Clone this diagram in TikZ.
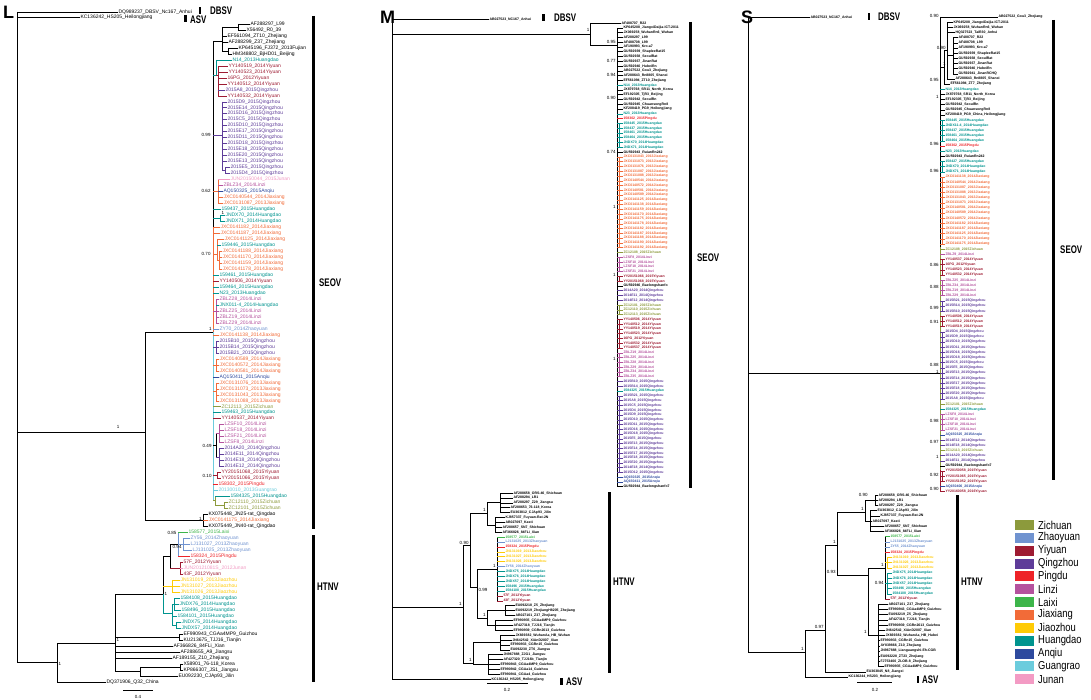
\documentclass[tikz,border=0pt]{standalone}
\usepackage{fontspec}
\setmainfont{Liberation Sans}
\usepackage{graphicx}
\definecolor{cZi}{HTML}{8C9A3C}
\definecolor{cZh}{HTML}{7093D0}
\definecolor{cYi}{HTML}{9E1B32}
\definecolor{cQi}{HTML}{5E3C99}
\definecolor{cPi}{HTML}{EE2328}
\definecolor{cLi}{HTML}{B5529E}
\definecolor{cLa}{HTML}{3DB54A}
\definecolor{cJx}{HTML}{F26B38}
\definecolor{cJz}{HTML}{FFCB05}
\definecolor{cHu}{HTML}{00948F}
\definecolor{cAn}{HTML}{2E4A9E}
\definecolor{cGu}{HTML}{6CCCDD}
\definecolor{cJu}{HTML}{F39BC4}
\definecolor{cK}{HTML}{000000}
\tikzset{
 lfL/.style={anchor=west,inner sep=0.3pt,font=\fontsize{5}{5}\selectfont},
 lfS/.style={anchor=west,inner sep=0.3pt,font=\bfseries\fontsize{3.5}{3.5}\selectfont},
 tw/.style={line width=0.45pt},
 br/.style={line width=0.7pt},
 bar/.style={line width=3pt},
 bs/.style={font=\fontsize{4.5}{4.5}\selectfont,inner sep=0.3pt},
 clade/.style={font=\bfseries\fontsize{11}{11}\selectfont,anchor=west,inner sep=0pt},
 mk/.style={fill=black,inner sep=0pt,minimum width=2.6pt,minimum height=7pt},
 panel/.style={font=\bfseries\fontsize{18}{18}\selectfont,anchor=base west,inner sep=0pt},
 legbox/.style={inner sep=0pt,minimum width=19pt,minimum height=10pt},
 legtxt/.style={anchor=west,inner sep=0pt,font=\fontsize{11.5}{11.5}\selectfont},
}
\newcommand\bsl[3]{\node[bs,anchor=east] (#1) at (#2) {#3};}
\newcommand\nar[1]{\scalebox{0.72}[1]{#1}}
\begin{document}
\catcode`\_=12
\begin{tikzpicture}[x=1pt,y=-1pt]
\useasboundingbox (0,0) rectangle (1091,700);
\fill[white] (0,0) rectangle (1091,700);
%%%%%%%%%%%%%%%%%%%%%%%%%%%%%%%%%%%%%%%% PANEL L
\node[panel] (pL) at (3,19) {L};
\node[lfL] (Ldbsv) at (118,12) {DQ989237_DBSV_Nc167_Anhui};
\node[lfL] (Lasv) at (80,17.5) {KC136242_HS205_Heilongjiang};
\draw[br] (17,12) -- (17,662);
\draw[br] (17,12) -- (Ldbsv.west);
\draw[br] (17,17.5) -- (Lasv.west);
\draw[br] (17,432) -- (145,432);
\draw[br] (145,332) -- (145,520.4);
\draw[br] (145,332) -- (213,332);
\draw[br] (145,520.4) -- (203,520.4);
\draw[br] (203,514.4) -- (203,526.3);
\draw[br] (213,41) -- (213,227.3);
\draw[br,cJx] (213,227.3) -- (213,332);
\draw[br,cGu] (213,332) -- (213,500);
\draw[br] (213,41) -- (222,41) (222,27) -- (222,51) (222,27) -- (238,27) (238,24) -- (238,30) (222,51) -- (228,51) (228,48) -- (228,54);
\draw[br,cHu] (213,75) -- (216,75) (216,59.9) -- (216,75);
\draw[br,cYi] (216,75) -- (218,75) (218,65.9) -- (218,95.8);
\draw[br,cQi] (213,135) -- (222,135) (222,101.7) -- (222,170.5) (222,170.5) -- (225,170.5) (225,167.5) -- (225,173.5);
\draw[br,cJx] (213,191) -- (218,191) (218,179.5) -- (218,203.4);
\draw[br,cHu] (213,218.4) -- (220,218.4) (220,215.4) -- (220,221.3);
\draw[br,cJx] (213,254) -- (217,254) (217,239.3) -- (217,260.2) (217,260.2) -- (219,260.2) (219,251.2) -- (219,269.2);
\draw[br,cLi] (213,311) -- (216,311) (216,299.1) -- (216,323);
\draw[br,cQi] (213,346.9) -- (216,346.9) (216,340.9) -- (216,352.9);
\draw[br,cJx] (213,364.9) -- (216,364.9) (216,358.9) -- (216,370.8);
\draw[br,cJx] (213,391.7) -- (216,391.7) (216,382.8) -- (216,400.7);
\draw[br] (213,445.6) -- (216,445.6) (216,433.6) -- (216,457.6);
\draw[br,cLi] (216,433.6) -- (219,433.6) (219,424.7) -- (219,442.6);
\draw[br,cQi] (216,457.6) -- (219,457.6) (219,448.6) -- (219,466.5);
\draw[br,cYi] (213,475.5) -- (217,475.5) (217,472.5) -- (217,478.5);
\draw[br,cZi] (213,500) -- (215,500) (215,496.4) -- (215,505.4) (215,505.4) -- (224,505.4) (224,502.4) -- (224,508.4);
% HTNV part of L
\draw[br] (17,662) -- (57,662) (57,643) -- (57,681.8) (57,643) -- (115,643) (115,594) -- (115,671.5);
\draw[br] (115,594) -- (163,594) (163,556) -- (163,594);
\draw[br,cHu] (163,594) -- (163,613);
\draw[br] (163,556) -- (170,556) (170,544.3) -- (170,568.2) (170,544.3) -- (178,544.3);
\draw[br,cZh] (178,532.3) -- (178,556.2) (178,544.3) -- (183,544.3) (183,538.3) -- (183,550.2);
\draw[br,cYi] (170,568.2) -- (180,568.2) (180,562.2) -- (180,574.2);
\draw[br,cJz] (163,586.1) -- (172,586.1) (172,580.1) -- (172,592.1);
\draw[br,cHu] (163,613) -- (172,613) (172,604.1) -- (172,625) (172,604.1) -- (174,604.1) (174,598.1) -- (174,610) (172,625) -- (176,625) (176,622) -- (176,628);
\draw[br] (115,637) -- (179,637) (179,634) -- (179,639.9);
\draw[br] (115,671.5) -- (140,671.5) (140,666.9) -- (140,675.8) (140,666.9) -- (180,666.9) (180,663.9) -- (180,669.8);
\foreach \c/\xs/\xt/\lab [count=\i from 0] in {
cK/238/250/AF288297_L99,
cK/238/246/X56492_R0_39,
cK/222/227/EF561094_ZT10_Zhejiang,
cK/222/228/AF288299_Z37_Zhejiang,
cK/228/238/KP645196_FJ372_2013Fujian,
cK/228/232/HM348802_BjHD01_Beijing,
cHu/216/232/N14_2013Huangdao,
cYi/218/228/YY140519_2014Yiyuan,
cYi/218/228/YY140523_2014Yiyuan,
cYi/218/227/16PG_2012Yiyuan,
cYi/218/227/YY140512_2014Yiyuan,
cQi/218/225/2015A8_2015Qingzhou,
cYi/218/227/YY140532_2014Yiyuan,
cQi/222/227/2015D9_2015Qingzhou,
cQi/222/227/2015E14_2015Qingzhou,
cQi/222/227/2015D16_2015Qingzhou,
cQi/222/227/2015C5_2015Qingzhou,
cQi/222/227/2015D10_2015Qingzhou,
cQi/222/227/2015E17_2015Qingzhou,
cQi/222/227/2015D11_2015Qingzhou,
cQi/222/227/2015D18_2015Qingzhou,
cQi/222/227/2015E18_2015Qingzhou,
cQi/222/227/2015E20_2015Qingzhou,
cQi/222/227/2015E13_2015Qingzhou,
cQi/225/230/2015E5_2015Qingzhou,
cQi/225/230/2015D4_2015Qingzhou,
cJu/218/230/JUN20150044_2015Junan,
cLi/218/223/ZBLZ34_2014Linzi,
cAn/218/223/AQ150325_2015Anqiu,
cJx/218/223/JXC0140544_2014Jiaxiang,
cJx/218/223/JXC0131087_2013Jiaxiang,
cHu/213/221/159437_2015Huangdao,
cHu/220/225/JNDX70_2014Huangdao,
cHu/220/225/JNDX71_2014Huangdao,
cJx/213/220/JXC0141182_2014Jiaxiang,
cJx/213/220/JXC0141187_2014Jiaxiang,
cJx/217/224/JXC0141125_2014Jiaxiang,
cHu/217/221/159446_2015Huangdao,
cJx/219/222/JXC0141188_2014Jiaxiang,
cJx/219/222/JXC0141170_2014Jiaxiang,
cJx/219/222/JXC0141159_2014Jiaxiang,
cJx/219/222/JXC0141178_2014Jiaxiang,
cHu/213/219/159461_2015Huangdao,
cYi/213/219/YY140506_2014Yiyuan,
cHu/213/219/159464_2015Huangdao,
cHu/213/219/N23_2013Huangdao,
cLi/216/219/ZBLZ28_2014Linzi,
cHu/216/219/JNX011-4_2014Huangdao,
cLi/216/219/ZBLZ25_2014Linzi,
cLi/216/219/ZBLZ19_2014Linzi,
cLi/216/219/ZBLZ29_2014Linzi,
cZh/213/219/ZY70_2014Zhaoyuan,
cJx/213/219/JXC0141138_2014Jiaxiang,
cQi/216/219/2015B10_2015Qingzhou,
cQi/216/219/2015B14_2015Qingzhou,
cQi/216/219/2015B21_2015Qingzhou,
cJx/216/219/JXC0140589_2014Jiaxiang,
cJx/216/219/JXC0140572_2014Jiaxiang,
cJx/216/219/JXC0140581_2014Jiaxiang,
cAn/213/219/AQ150411_2015Anqiu,
cJx/216/219/JXC0131076_2013Jiaxiang,
cJx/216/219/JXC0131073_2013Jiaxiang,
cJx/216/219/JXC0131043_2013Jiaxiang,
cJx/216/219/JXC0131088_2013Jiaxiang,
cZi/213/221/ZC12113_2015Zichuan,
cHu/213/221/159463_2015Huangdao,
cYi/213/221/YY140537_2014Yiyuan,
cLi/219/224/LZSF10_2014Linzi,
cLi/219/224/LZSF18_2014Linzi,
cLi/219/224/LZSF21_2014Linzi,
cLi/219/224/LZSF8_2014Linzi,
cQi/219/224/2014A20_2014Qingzhou,
cQi/219/224/2014E11_2014Qingzhou,
cQi/219/224/2014E18_2014Qingzhou,
cQi/219/224/2014E12_2014Qingzhou,
cYi/217/221/YY20151068_2015Yiyuan,
cYi/217/221/YY20151066_2015Yiyuan,
cPi/213/218/158302_2015Pingdu,
cGu/213/218/20130010_2013Guangrao,
cHu/215/230/1584325_2015Huangdao,
cZi/224/228/ZC12110_2015Zichuan,
cZi/224/228/ZC12101_2015Zichuan,
cK/203/208/KX075448_JN25-rat_Qingdao,
cJx/203/208/JXC0141175_2014Jiaxiang,
cK/203/208/KX075449_JN40-rat_Qingdao,
cLa/178/188/158577_2015Laixi,
cZh/183/190/ZY56_2014Zhaoyuan,
cZh/183/190/LJ131027_2013Zhaoyuan,
cZh/183/192/LJ131025_2013Zhaoyuan,
cPi/178/190/158324_2015Pingdu,
cYi/180/183/57F_2012Yiyuan,
cJu/180/183/JUN20121081S_2012Junan,
cYi/180/183/43F_2012Yiyuan,
cJz/172/180/JN131019_2013Jiaozhou,
cJz/172/180/JN131027_2013Jiaozhou,
cJz/172/180/JN131026_2013Jiaozhou,
cHu/174/180/1584108_2015Huangdao,
cHu/174/179/JNDX76_2014Huangdao,
cHu/174/181/158496_2015Huangdao,
cHu/172/177/1584101_2015Huangdao,
cHu/176/181/JNDX75_2014Huangdao,
cHu/176/181/JNDX57_2014Huangdao,
cK/179/183/EF990943_CGAa4MP9_Guizhou,
cK/179/183/KU213675_TJJ16_Tianjin,
cK/115/173/AF366826_84FLi_Xian,
cK/115/180/AF288655_A9_Jiangsu,
cK/115/172/AF189155_Z10_Zhejiang,
cK/180/183/X58901_76-118_Korea,
cK/180/183/KP866307_JS1_Jiangsu,
cK/140/178/EU092230_CJAp93_Jilin,
cK/57/106/DQ371906_Q32_China}{
 \pgfmathsetmacro\yy{24+5.98*\i}
 \node[lfL,text=\c] (L\i) at (\xt,\yy) {\lab};
 \draw[\c,tw] (\xs,\yy) -- (L\i.west);
}
\bsl{bL1}{211,135}{0.99}
\bsl{bL2}{211,191}{0.62}
\node[bs,anchor=west] (bL3) at (221,212.5) {1};
\bsl{bL4}{211,254}{0.70}
\bsl{bL5}{212,329}{1}
\bsl{bL6}{212,445.6}{0.49}
\bsl{bL7}{212,475.5}{0.10}
\bsl{bL8}{202,519}{1}
\node[bs] (bL9) at (118,427) {1};
\bsl{bL10}{177,533}{0.85}
\bsl{bL11}{182,547}{0.94}
\node[bs,anchor=west] (bL12) at (164,594) {1};
\node[bs,anchor=west] (bL13) at (116,640) {1};
\node[bs,anchor=west] (bL14) at (58,664) {1};
\draw[br] (123,690) -- (153,690);
\node[bs] (scL) at (138,697) {0.4};
\node[mk] (mDL) at (200,10.5) {};
\node[clade] (tDL) at (210,11) {\nar{DBSV}};
\node[mk] (mAL) at (185.5,18.5) {};
\node[clade] (tAL) at (190,19.5) {\nar{ASV}};
\draw[bar] (313.5,16) -- (313.5,529);
\node[clade] (tSL) at (319,283) {\nar{SEOV}};
\draw[bar] (313.5,535) -- (313.5,682);
\node[clade] (tHL) at (317,587) {\nar{HTNV}};
%%%%%%%%%%%%%%%%%%%%%%%%%%%%%%%%%%%%%%%% PANEL M
\node[panel] (pM) at (380,24) {M};
\node[lfS] (Mdbsv) at (489,19) {AB027523_NC167_Anhui};
\draw[br] (392,19) -- (392,679.2);
\draw[br] (392,19) -- (Mdbsv.west);
\draw[br] (392,34) -- (590,34) (590,23) -- (590,45) (590,45) -- (617,45) (617,27.8) -- (617,486.7);
\draw[br,cHu] (619.5,123.4) -- (619.5,147.3);
\draw[br,cJx] (619.5,156.8) -- (619.5,247.7);
\draw[br,cLi] (619.5,257.2) -- (619.5,271.6);
\draw[br,cYi] (619.5,276.3) -- (619.5,281.1);
\draw[br,cZi] (619.5,305) -- (619.5,314.6);
\draw[br,cYi] (619.5,319.4) -- (619.5,348);
\draw[br,cLi] (619.5,352.8) -- (619.5,376.7);
\draw[br,cQi] (619.5,395.8) -- (619.5,472.3);
\node[lfS] (M0) at (621,23) {AF488707_R22};
\draw[tw] (590,23) -- (M0.west);
\foreach \c/\lab [count=\i from 1] in {
cK/KP645208_JiangxiDaijia-ICT-2011, cK/JX069258_WuhanRn6_Wuhan, cK/AF288297_L99, cK/AF488708_L99,
cK/AF190993_Kro-a7, cK/GU592939_ShapleeRat15, cK/GU592938_SeoulRat, cK/GU592937_JinanRat,
cK/GU592940_HubeiRn, cK/AB027522_Gou3_Zhejiang, cK/AF288643_Rn8805_Shanxi, cK/EF561094_ZT10_Zhejiang,
cHu/N14_2013Huangdao, cK/JX879768_SR11_North_Korea, cK/EF192305_TjR3_Beijing, cK/GU592942_SeoulRn,
cK/GU592945_ChuansongRn8, cK/KF208419_PG9_Heilongjiang, cHu/N23_2013Huangdao, cPi/158302_2015Pingdu,
cHu/158445_2015Huangdao, cHu/158437_2015Huangdao, cHu/158461_2015Huangdao, cHu/158464_2015Huangdao,
cHu/JNDX70_2014Huangdao, cHu/JNDX71_2014Huangdao, cK/GU592943_RuianRn242,
cJx/JXC0131043_2013Jiaxiang, cJx/JXC0131073_2013Jiaxiang, cJx/JXC0131076_2013Jiaxiang, cJx/JXC0131087_2013Jiaxiang,
cJx/JXC0131088_2013Jiaxiang, cJx/JXC0140544_2014Jiaxiang, cJx/JXC0140572_2014Jiaxiang, cJx/JXC0140581_2014Jiaxiang,
cJx/JXC0140589_2014Jiaxiang, cJx/JXC0141125_2014Jiaxiang, cJx/JXC0141138_2014Jiaxiang, cJx/JXC0141159_2014Jiaxiang,
cJx/JXC0141170_2014Jiaxiang, cJx/JXC0141175_2014Jiaxiang, cJx/JXC0141178_2014Jiaxiang, cJx/JXC0141182_2014Jiaxiang,
cJx/JXC0141187_2014Jiaxiang, cJx/JXC0141188_2014Jiaxiang, cJx/JXC0141190_2014Jiaxiang, cJx/JXC0141192_2014Jiaxiang,
cZi/ZC12108_2015Zichuan, cLi/LZSF8_2014Linzi, cLi/LZSF10_2014Linzi, cLi/LZSF18_2014Linzi, cLi/LZSF21_2014Linzi,
cYi/YY20151066_2015Yiyuan, cYi/YY20151068_2015Yiyuan, cK/GU592946_Baelongshanfo,
cQi/2014A20_2014Qingzhou, cQi/2014E11_2014Qingzhou, cQi/2014E12_2014Qingzhou,
cZi/ZC12101_2015Zichuan, cZi/ZC12110_2015Zichuan, cZi/ZC12113_2015Zichuan,
cYi/YY140506_2014Yiyuan, cYi/YY140512_2014Yiyuan, cYi/YY140519_2014Yiyuan, cYi/YY140523_2014Yiyuan,
cYi/16PG_2012Yiyuan, cYi/YY140532_2014Yiyuan, cYi/YY140537_2014Yiyuan,
cLi/ZBLZ19_2014Linzi, cLi/ZBLZ25_2014Linzi, cLi/ZBLZ28_2014Linzi, cLi/ZBLZ29_2014Linzi, cLi/ZBLZ34_2014Linzi, cLi/ZBLZ35_2014Linzi,
cQi/2015B10_2015Qingzhou, cQi/2015B14_2015Qingzhou, cHu/1584325_2015Huangdao,
cQi/2015B21_2015Qingzhou, cQi/2015A8_2015Qingzhou, cQi/2015C5_2015Qingzhou, cQi/2015D4_2015Qingzhou,
cQi/2015D9_2015Qingzhou, cQi/2015D10_2015Qingzhou, cQi/2015D11_2015Qingzhou, cQi/2015D16_2015Qingzhou,
cQi/2015D18_2015Qingzhou, cQi/2015E5_2015Qingzhou, cQi/2015E13_2015Qingzhou, cQi/2015E14_2015Qingzhou,
cQi/2015E17_2015Qingzhou, cQi/2015E18_2015Qingzhou, cQi/2015E20_2015Qingzhou, cQi/2014E18_2014Qingzhou,
cQi/2015D12_2015Qingzhou, cAn/AQ150325_2015Anqiu, cAn/AQ150411_2015Anqiu, cK/GU592944_Baelongshanfo7}{
 \pgfmathsetmacro\yy{23+4.78*\i}
 \node[lfS,text=\c] (M\i) at (623,\yy) {\lab};
 \draw[\c,tw] (617,\yy) -- (M\i.west);
}
\node[bs] (bM0) at (588,30) {1};
\bsl{bM1}{616,42}{0.95}
\bsl{bM2}{616,61}{0.77}
\bsl{bM3}{616,75}{0.94}
\bsl{bM4}{616,98}{0.90}
\bsl{bM5}{616,152}{0.74}
\bsl{bM6}{616,207}{1}
\bsl{bM7}{616,275}{1}
\bsl{bM8}{616,359}{1}
% HTNV of M
\draw[br] (392,607) -- (463,607) (463,545) -- (463,663) (463,545) -- (470,545) (470,513) -- (470,587);
\draw[br] (470,513) -- (487,513) (487,502.8) -- (487,524.9) (487,502.8) -- (500,502.8) (500,493) -- (500,512.6) (487,524.9) -- (495,524.9) (495,517.5) -- (495,532.2);
\draw[br] (470,587) -- (477,587) (477,569) -- (477,618) (477,569) -- (497,569) (497,537.1) -- (497,600.8);
\draw[br] (477,618) -- (487,618) (487,610.6) -- (487,625.3) (487,610.6) -- (505,610.6) (505,605.7) -- (505,615.5) (487,625.3) -- (495,625.3) (495,620.4) -- (495,630.2);
\draw[br] (463,663) -- (473,663) (473,642.5) -- (473,664.5) (473,642.5) -- (500,642.5) (500,635.1) -- (500,649.8) (473,664.5) -- (488,664.5) (488,654.7) -- (488,674.3);
\foreach \c/\xs/\xt/\lab [count=\i from 0] in {
cK/500/513/AF288658_ORS-46_Shichuan, cK/500/513/AF288294_LR1, cK/500/513/AF288297_Z29_Jiangsu,
cK/500/510/AF288653_76-118_Korea, cK/500/510/EU363812_CJAp93_Jilin, cK/495/505/KJ857337_Fuyuan-Rat-2N,
cK/495/505/AB027097_Kasti, cK/495/502/AF288657_SN7_Shichuan, cK/495/502/AF366826_84FLi_Xian,
cLa/497/505/158577_2015Laixi, cZh/497/505/LJ131025_2013Zhaoyuan, cPi/497/505/158324_2015Pingdu,
cJz/497/505/JN131019_2013Jiaozhou, cJz/497/505/JN131027_2013Jiaozhou, cJz/497/505/JN131026_2013Jiaozhou,
cZh/497/505/ZY56_2014Zhaoyuan, cHu/497/505/JNDX75_2014Huangdao, cHu/497/505/JNDX76_2014Huangdao,
cHu/497/505/JNDX57_2014Huangdao, cHu/497/505/158496_2015Huangdao, cHu/497/505/1584108_2015Huangdao,
cYi/497/503/57F_2012Yiyuan, cYi/497/503/43F_2012Yiyuan,
cK/505/515/EU092218_Z5_Zhejiang, cK/505/515/EU092219_ZhejiangH8205_Zhejiang, cK/505/515/AB027101_Z37_Zhejiang,
cK/495/513/EF990935_CGAa4MP9_Guizhou, cK/495/513/AF427318_TJJ16_Tianjin, cK/495/513/EF990939_CGRn2613_Guizhou,
cK/500/515/JX669382_WuhanAa_HB_Wuhan, cK/500/512/JN642542_XiAnD2007_Xian, cK/500/510/EF990933_CGRn15_Guizhou,
cK/500/510/EU092230_ZT6_Jiangsu, cK/488/503/JN967888_ZJG1_Jiangsu, cK/488/503/AF427320_TJJ16b_Tianjin,
cK/488/500/EF990943_CGAa4MP9_Guizhou, cK/488/500/EF990942_CGAa14_Guizhou, cK/488/500/EF990941_CGAa4_Guizhou,
cK/392/491/KC136242_HS205_Heilongjiang}{
 \pgfmathsetmacro\yy{493+4.9*\i}
 \node[lfS,text=\c] (Mh\i) at (\xt,\yy) {\lab};
 \draw[\c,tw] (\xs,\yy) -- (Mh\i.west);
}
\bsl{bM9}{462,604}{1}
\bsl{bM10}{469,543}{0.90}
\node[bs,anchor=west] (bM11) at (478,590) {0.99};
\bsl{bM12}{496,566}{1}
\bsl{bM13}{486,510}{1}
\bsl{bM14}{472,660}{1}
\bsl{bM15}{486,615}{1}
\draw[br] (487,683) -- (528,683);
\node[bs] (scM) at (507,690) {0.2};
\node[mk] (mDM) at (543.5,18) {};
\node[clade] (tDM) at (554,18) {\nar{DBSV}};
\node[mk] (mAM) at (561.5,681) {};
\node[clade] (tAM) at (566,681.5) {\nar{ASV}};
\draw[bar] (690,22) -- (690,488);
\node[clade] (tSM) at (697,258) {\nar{SEOV}};
\draw[bar] (609.5,492) -- (609.5,673);
\node[clade] (tHM) at (613,582) {\nar{HTNV}};
%%%%%%%%%%%%%%%%%%%%%%%%%%%%%%%%%%%%%%%% PANEL S
\node[panel] (pS) at (741,24) {S};
\node[lfS] (Sdbsv) at (810,17) {AB027523_NC167_Anhui};
\draw[br] (748,17) -- (748,652);
\draw[br] (748,17) -- (Sdbsv.west);
\draw[br] (748,373) -- (940,373) (940,17) -- (940,247);
\draw[br,cZi] (940,247) -- (940,470);
\draw[br,cYi] (940,470) -- (940,491.7);
\draw[br] (940,67.3) -- (944,67.3) (944,50.5) -- (944,84.1) (944,50.5) -- (947,50.5) (947,22.2) -- (947,78.9) (947,55.7) -- (953,55.7) (953,37.6) -- (953,73.8);
\draw[br,cHu] (942.5,120.2) -- (942.5,140.8) (942.5,161.5) -- (942.5,171.8);
\draw[br,cJx] (942.5,177) -- (942.5,244);
\draw[br,cYi] (942.5,259.5) -- (942.5,275) (942.5,316.3) -- (942.5,326.6) (942.5,471.1) -- (942.5,481.4);
\draw[br,cLi] (942.5,280.2) -- (942.5,295.6) (942.5,414.3) -- (942.5,429.8);
\draw[br,cQi] (942.5,300.8) -- (942.5,311.1) (942.5,331.8) -- (942.5,398.8);
\foreach \c/\xs/\xt/\lab [count=\i from 0] in {
cK/940/998/AB027522_Gou3_Zhejiang, cK/947/953/KP645208_JiangxiDaijia-ICT-2011, cK/947/953/JX069258_WuhanRn6_Wuhan,
cK/947/955/HQ327523_TaiR30_Anhui, cK/953/958/AF488707_R22, cK/953/958/AF488708_L99, cK/953/958/AF190993_Kro-a7,
cK/953/958/GU592939_ShapleeRat15, cK/953/958/GU592938_SeoulRat, cK/953/958/GU592937_JinanRat,
cK/953/958/GU592940_HubeiRn, cK/953/958/GU592941_JinanRCHQ, cK/947/955/AF288643_Rn8805_Shanxi,
cK/944/950/EF561094_ZT7_Zhejiang}{
 \pgfmathsetmacro\yy{17+5.16*\i}
 \node[lfS,text=\c] (S\i) at (\xt,\yy) {\lab};
 \draw[\c,tw] (\xs,\yy) -- (S\i.west);
}
\foreach \c/\lab [count=\i from 14] in {
cHu/N14_2013Huangdao, cK/JX879768_SR11_North_Korea, cK/EF192305_TjR3_Beijing, cK/GU592942_SeoulRn,
cK/GU592945_ChuansongRn8, cK/KF208419_PG9_China_Heilongjiang, cHu/158445_2015Huangdao, cHu/JNDX11-4_2014Huangdao,
cHu/158437_2015Huangdao, cHu/158461_2015Huangdao, cHu/158464_2015Huangdao, cPi/158302_2015Pingdu,
cHu/N23_2013Huangdao, cK/GU592943_RuianRn242, cHu/158427_2015Huangdao, cHu/JNDX70_2014Huangdao, cHu/JNDX71_2014Huangdao,
cJx/JXC0141138_2014Jiaxiang, cJx/JXC0140544_2014Jiaxiang, cJx/JXC0131087_2013Jiaxiang, cJx/JXC0131088_2013Jiaxiang,
cJx/JXC0131043_2013Jiaxiang, cJx/JXC0131073_2013Jiaxiang, cJx/JXC0140581_2014Jiaxiang, cJx/JXC0140589_2014Jiaxiang,
cJx/JXC0140572_2014Jiaxiang, cJx/JXC0141182_2014Jiaxiang, cJx/JXC0141187_2014Jiaxiang, cJx/JXC0141125_2014Jiaxiang,
cJx/JXC0141170_2014Jiaxiang, cJx/JXC0141175_2014Jiaxiang,
cZi/ZC12108_2015Zichuan, cLi/ZBLZ9_2014Linzi,
cYi/YY140537_2014Yiyuan, cYi/16PG_2012Yiyuan, cYi/YY140523_2014Yiyuan, cYi/YY140532_2014Yiyuan,
cLi/ZBLZ25_2014Linzi, cLi/ZBLZ34_2014Linzi, cLi/ZBLZ19_2014Linzi, cLi/ZBLZ29_2014Linzi,
cQi/2015B21_2015Qingzhou, cQi/2015B14_2015Qingzhou, cQi/2015B10_2015Qingzhou,
cYi/YY140506_2014Yiyuan, cYi/YY140512_2014Yiyuan, cYi/YY140519_2014Yiyuan,
cQi/2015D4_2015Qingzhou, cQi/2015D9_2015Qingzhou, cQi/2015D10_2015Qingzhou, cQi/2015D11_2015Qingzhou,
cQi/2015D16_2015Qingzhou, cQi/2015D18_2015Qingzhou, cQi/2015C5_2015Qingzhou, cQi/2015E5_2015Qingzhou,
cQi/2015E13_2015Qingzhou, cQi/2015E14_2015Qingzhou, cQi/2015E17_2015Qingzhou, cQi/2015E18_2015Qingzhou,
cQi/2015E20_2015Qingzhou, cQi/2015A8_2015Qingzhou,
cZi/ZC12101_2015Zichuan, cHu/1584325_2015Huangdao,
cLi/LZSF8_2014Linzi, cLi/LZSF10_2014Linzi, cLi/LZSF18_2014Linzi, cLi/LZSF21_2014Linzi,
cAn/AQ150325_2015Anqiu, cQi/2014E12_2014Qingzhou, cQi/2014E18_2014Qingzhou, cZi/ZC12113_2015Zichuan,
cQi/2014A20_2014Qingzhou, cQi/2014E11_2014Qingzhou, cK/GU592944_Baelongshanfo7,
cYi/YY20150058_2015Yiyuan, cYi/YY20151065_2015Yiyuan, cYi/YY20151052_2015Yiyuan,
cAn/AQ150406_2015Anqiu, cYi/YY20160058_2016Yiyuan}{
 \pgfmathsetmacro\yy{17+5.16*\i}
 \node[lfS,text=\c] (S\i) at (945,\yy) {\lab};
 \draw[\c,tw] (940,\yy) -- (S\i.west);
}
\bsl{bS1}{939,16}{0.90}
\bsl{bS2}{946,48}{0.90}
\bsl{bS3}{946,64}{1}
\bsl{bS4}{939,80}{0.95}
\bsl{bS5}{939,97}{1}
\bsl{bS6}{939,144}{0.96}
\bsl{bS7}{939,171}{0.96}
\bsl{bS8}{939,265}{0.86}
\bsl{bS9}{939,287}{0.88}
\bsl{bS10}{939,308}{0.99}
\bsl{bS11}{939,322}{0.91}
\bsl{bS12}{939,365}{0.88}
\bsl{bS13}{939,372}{1}
\bsl{bS14}{939,421}{0.98}
\bsl{bS15}{939,442}{0.97}
\bsl{bS16}{939,457}{1}
\bsl{bS17}{939,475}{0.92}
\bsl{bS18}{939,489}{0.90}
% HTNV of S
\draw[br] (748,652) -- (805,652) (805,630) -- (805,677) (805,630) -- (825,630) (825,545) -- (825,671.8) (825,545) -- (837,545) (837,512) -- (837,575);
\draw[br] (837,512) -- (865,512) (865,500.2) -- (865,521) (865,500.2) -- (875,500.2) (875,495) -- (875,505.4) (865,521) -- (870,521) (870,510.6) -- (870,531.4);
\draw[br] (837,575) -- (868,575) (868,568) -- (868,635) (868,568) -- (885,568) (885,536.6) -- (885,599) (868,635) -- (878,635) (878,604.2) -- (878,666.6);
\draw[br,cJz] (885,562.6) -- (887,562.6) (887,557.4) -- (887,567.8);
\draw[br,cHu] (885,583.4) -- (887,583.4) (887,573) -- (887,593.8);
\foreach \c/\xs/\xt/\lab [count=\i from 0] in {
cK/875/878/AF288658_ORS-46_Shichuan, cK/875/878/AF288294_LR1, cK/875/878/AF288297_Z29_Jiangsu,
cK/870/877/EU363812_CJAp93_Jilin, cK/870/880/KJ857337_Fuyuan-Rat-2N, cK/870/872/AB027097_Kasti,
cK/870/884/AF288657_SN7_Shichuan, cK/870/884/AF366826_84FLi_Xian,
cLa/885/890/158577_2015Laixi, cZh/885/890/LJ131025_2013Zhaoyuan, cZh/885/890/ZY55_2014Zhaoyuan,
cPi/885/890/158324_2015Pingdu, cJz/887/892/JN131019_2013Jiaozhou, cJz/887/892/JN131026_2013Jiaozhou,
cJz/887/892/JN131027_2013Jiaozhou, cHu/887/892/JNDX75_2014Huangdao, cHu/887/892/JNDX76_2014Huangdao,
cHu/887/892/JNDX57_2014Huangdao, cHu/887/892/158496_2015Huangdao, cHu/887/892/1584108_2015Huangdao,
cYi/885/890/57F_2012Yiyuan,
cK/878/888/AB027101_Z37_Zhejiang, cK/878/888/EF990943_CGAa4MP9_Guizhou, cK/878/888/EU092219_Z5_Zhejiang,
cK/878/888/AF427318_TJJ16_Tianjin, cK/878/888/EF990939_CGRn2613_Guizhou, cK/878/885/JN642542_XiAnD2007_Xian,
cK/878/885/JX669382_WuhanAa_HB_Hubei, cK/878/880/EF990933_CGRn15_Guizhou, cK/878/880/AY839866_Z10_Zhejiang,
cK/878/880/JN967888_Lianguangshi-Eh-CGB, cK/878/880/EU092228_ZT23_Zhejiang, cK/878/880/FJ753400_ZLOB-8_Zhejiang,
cK/878/884/EF990935_CGAa4MP9_Guizhou, cK/825/866/EU363845_N8_Jiangxi, cK/805/848/KC136244_HS203_Heilongjiang}{
 \pgfmathsetmacro\yy{495+5.2*\i}
 \node[lfS,text=\c] (Sh\i) at (\xt,\yy) {\lab};
 \draw[\c,tw] (\xs,\yy) -- (Sh\i.west);
}
\bsl{bS19}{868,495}{0.90}
\bsl{bS20}{864,509}{1}
\bsl{bS21}{836,542}{1}
\bsl{bS22}{836,572}{0.93}
\bsl{bS23}{884,565}{1}
\bsl{bS24}{884,583}{0.94}
\bsl{bS25}{867,632}{1}
\bsl{bS26}{824,627}{0.97}
\bsl{bS27}{804,649}{1}
\draw[br] (857,682) -- (892,682);
\node[bs] (scS) at (875,690) {0.2};
\node[mk] (mDS) at (869,16.5) {};
\node[clade] (tDS) at (878,16.5) {\nar{DBSV}};
\node[mk] (mAS) at (918,679) {};
\node[clade] (tAS) at (922,679.5) {\nar{ASV}};
\draw[bar] (1053,20) -- (1053,480);
\node[clade] (tSS) at (1060,250) {\nar{SEOV}};
\draw[bar] (957,495) -- (957,670);
\node[clade] (tHS) at (961,582) {\nar{HTNV}};
%%%%%%%%%%%%%%%%%%%%%%%%%%%%%%%%%%%%%%%% LEGEND
\foreach \c/\n [count=\k from 0] in {cZi/Zichuan, cZh/Zhaoyuan, cYi/Yiyuan, cQi/Qingzhou, cPi/Pingdu, cLi/Linzi, cLa/Laixi, cJx/Jiaxiang, cJz/Jiaozhou, cHu/Huangdao, cAn/Anqiu, cGu/Guangrao, cJu/Junan}{
 \pgfmathsetmacro\yy{525+12.85*\k}
 \node[legbox,fill=\c] (lb\k) at (1024.5,\yy) {};
 \node[legtxt] (lt\k) at (1038,\yy) {\scalebox{0.82}[1]{\n}};
}
\end{tikzpicture}
\end{document}
